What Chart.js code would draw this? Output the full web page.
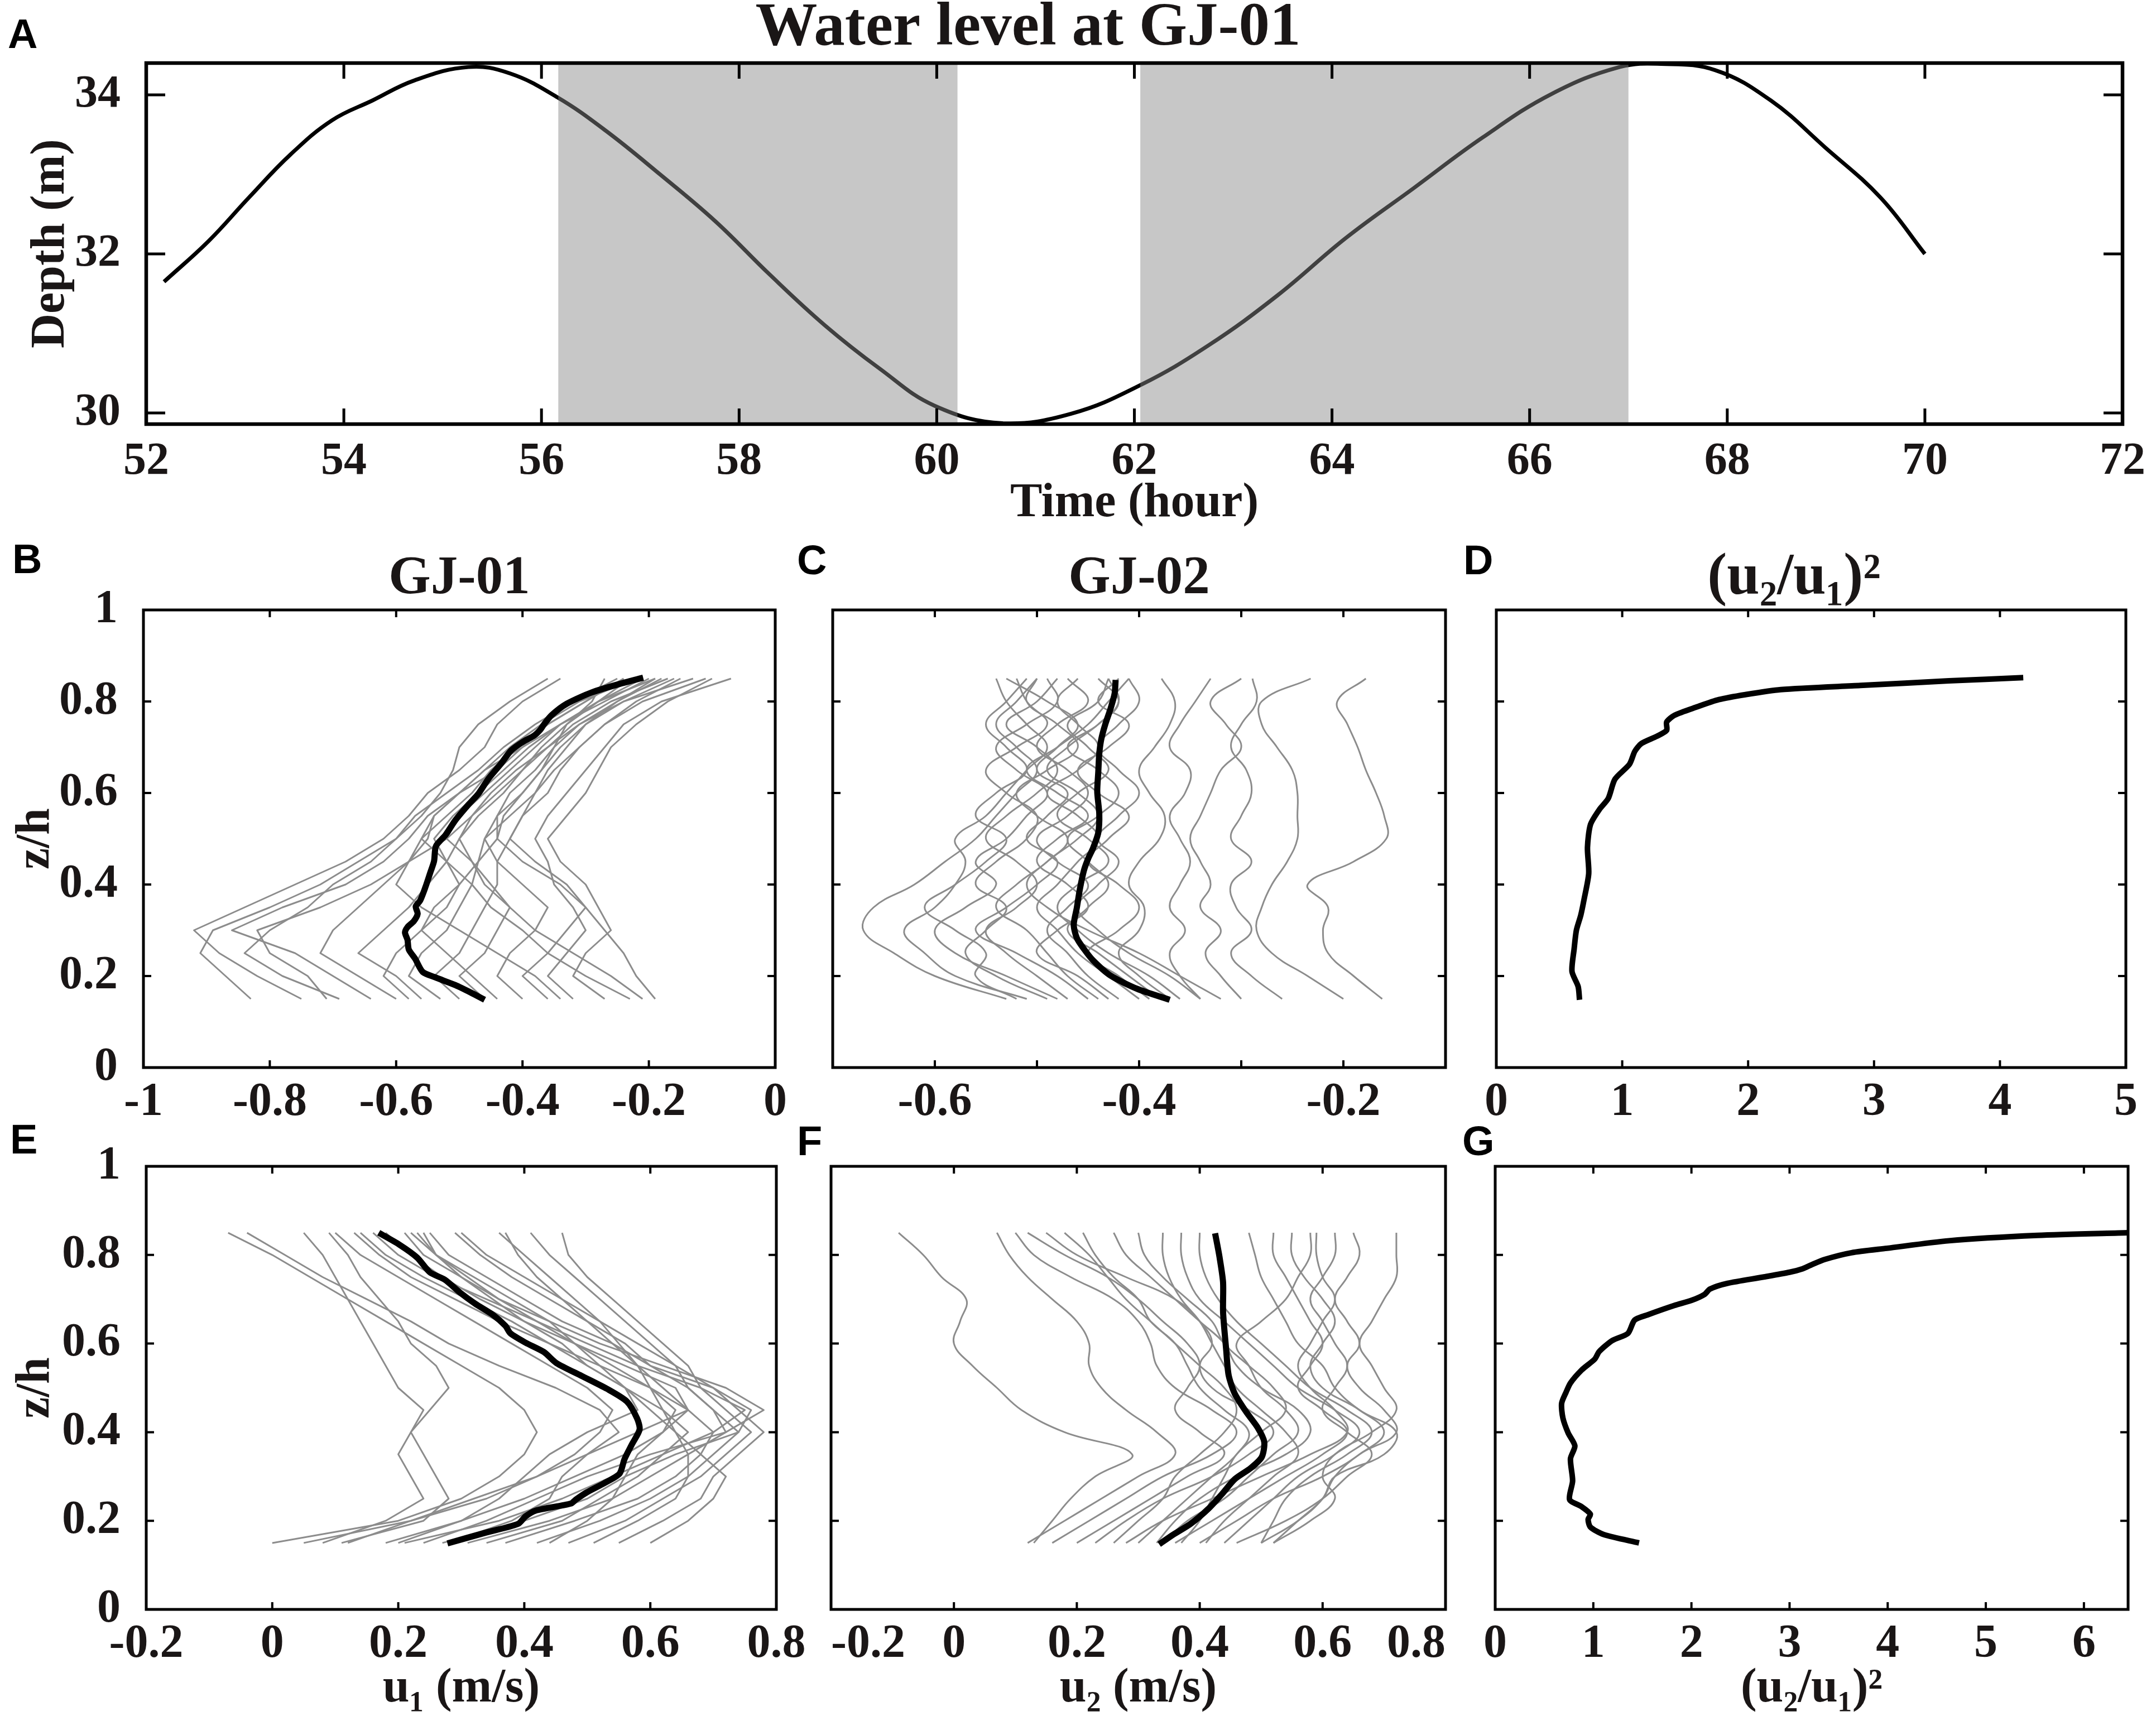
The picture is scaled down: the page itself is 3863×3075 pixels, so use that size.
<!DOCTYPE html>
<html>
<head>
<meta charset="utf-8">
<script src="https://cdn.jsdelivr.net/npm/chart.js@4.4.1/dist/chart.umd.min.js"></script>
<style>
  body { margin: 0; background: #fff; }
  #page { position: relative; width: 3863px; height: 3075px; overflow: hidden; background: #fff; }
  canvas { position: absolute; }
  .tag { position: absolute; font: bold 74px 'Liberation Sans', Arial, sans-serif; line-height: 1; color: #000; }
</style>
</head>
<body>
<div id="page">
  <canvas id="chartA"></canvas>
  <canvas id="chartB"></canvas>
  <canvas id="chartC"></canvas>
  <canvas id="chartD"></canvas>
  <canvas id="chartE"></canvas>
  <canvas id="chartF"></canvas>
  <canvas id="chartG"></canvas>
  <div class="tag" style="left:14px;top:24px">A</div>
  <div class="tag" style="left:22px;top:965px">B</div>
  <div class="tag" style="left:1428px;top:967px">C</div>
  <div class="tag" style="left:2622px;top:967px">D</div>
  <div class="tag" style="left:18px;top:2005px">E</div>
  <div class="tag" style="left:1428px;top:2008px">F</div>
  <div class="tag" style="left:2620px;top:2008px">G</div>
</div>
<script>
/* water level at GJ-01 */
const levelHours = [52.18, 52.63, 53.04, 53.46, 53.88, 54.29, 54.71, 55.26, 55.68, 56.16, 56.65, 57.2, 57.76, 58.31, 58.87, 59.42, 59.98, 60.67, 61.36, 62.06, 62.75, 63.45, 64.14, 64.83, 65.52, 66.22, 66.91, 67.33, 67.88, 68.44, 68.99, 69.55, 70.0];
const levelDepth = [31.65, 32.16, 32.71, 33.25, 33.68, 33.93, 34.18, 34.35, 34.27, 33.97, 33.55, 33.0, 32.41, 31.74, 31.10, 30.56, 30.09, 29.87, 29.99, 30.35, 30.85, 31.48, 32.2, 32.83, 33.46, 34.01, 34.35, 34.39, 34.31, 33.93, 33.34, 32.71, 32.0];
const shadeStart = [56.17, 62.06];
const shadeEnd = [60.21, 67.0];

/* profile levels (z/h) shared by all thin profiles */
const zLevels = [0.15, 0.2, 0.25, 0.3, 0.35, 0.4, 0.45, 0.5, 0.55, 0.6, 0.65, 0.7, 0.75, 0.8, 0.85];

/* B: GJ-01 ebb profiles */
const gj01EbbProfiles = [
  [-0.83,-0.87,-0.91,-0.89,-0.80,-0.72,-0.66,-0.60,-0.57,-0.52,-0.47,-0.43,-0.38,-0.32,-0.25],
  [-0.75,-0.82,-0.88,-0.92,-0.84,-0.76,-0.68,-0.62,-0.58,-0.55,-0.50,-0.46,-0.44,-0.40,-0.34],
  [-0.69,-0.78,-0.84,-0.80,-0.74,-0.70,-0.64,-0.60,-0.56,-0.53,-0.51,-0.50,-0.47,-0.42,-0.36],
  [-0.64,-0.70,-0.76,-0.86,-0.78,-0.68,-0.62,-0.58,-0.55,-0.50,-0.46,-0.42,-0.37,-0.31,-0.22],
  [-0.60,-0.66,-0.72,-0.70,-0.66,-0.62,-0.58,-0.55,-0.54,-0.50,-0.44,-0.40,-0.34,-0.27,-0.20],
  [-0.56,-0.60,-0.66,-0.62,-0.58,-0.55,-0.52,-0.50,-0.48,-0.45,-0.41,-0.36,-0.32,-0.26,-0.17],
  [-0.53,-0.58,-0.56,-0.52,-0.50,-0.48,-0.47,-0.46,-0.44,-0.42,-0.38,-0.35,-0.31,-0.24,-0.16],
  [-0.50,-0.54,-0.50,-0.48,-0.46,-0.44,-0.44,-0.42,-0.40,-0.38,-0.35,-0.31,-0.27,-0.21,-0.11],
  [-0.46,-0.50,-0.46,-0.44,-0.42,-0.45,-0.48,-0.50,-0.47,-0.43,-0.40,-0.37,-0.33,-0.29,-0.27],
  [-0.40,-0.44,-0.42,-0.38,-0.36,-0.40,-0.44,-0.46,-0.42,-0.38,-0.36,-0.33,-0.30,-0.25,-0.19],
  [-0.36,-0.40,-0.36,-0.33,-0.30,-0.33,-0.38,-0.42,-0.40,-0.36,-0.34,-0.31,-0.27,-0.22,-0.15],
  [-0.32,-0.36,-0.33,-0.30,-0.32,-0.35,-0.36,-0.38,-0.36,-0.33,-0.30,-0.27,-0.24,-0.18,-0.07],
  [-0.27,-0.32,-0.30,-0.26,-0.28,-0.30,-0.34,-0.36,-0.33,-0.30,-0.28,-0.26,-0.22,-0.17,-0.10],
  [-0.23,-0.30,-0.36,-0.40,-0.45,-0.48,-0.52,-0.56,-0.54,-0.50,-0.46,-0.40,-0.36,-0.30,-0.24],
  [-0.21,-0.26,-0.32,-0.38,-0.42,-0.46,-0.48,-0.52,-0.50,-0.46,-0.42,-0.38,-0.34,-0.28,-0.21],
  [-0.19,-0.22,-0.24,-0.27,-0.30,-0.34,-0.40,-0.44,-0.44,-0.40,-0.37,-0.34,-0.30,-0.24,-0.13],
  [-0.58,-0.62,-0.60,-0.56,-0.52,-0.50,-0.52,-0.54,-0.51,-0.47,-0.43,-0.39,-0.34,-0.28,-0.19],
  [-0.71,-0.74,-0.80,-0.82,-0.72,-0.64,-0.58,-0.56,-0.52,-0.48,-0.45,-0.41,-0.36,-0.30,-0.24],
  [-0.44,-0.48,-0.52,-0.56,-0.54,-0.50,-0.47,-0.44,-0.43,-0.40,-0.37,-0.35,-0.33,-0.28,-0.23],
  [-0.34,-0.38,-0.44,-0.50,-0.56,-0.60,-0.58,-0.52,-0.48,-0.44,-0.40,-0.36,-0.31,-0.25,-0.18]
];
const gj01EbbMeanU = [-0.46,-0.482,-0.506,-0.538,-0.558,-0.57,-0.58,-0.582,-0.586,-0.582,-0.572,-0.566,-0.569,-0.562,-0.554,-0.546,-0.54,-0.537,-0.522,-0.506,-0.486,-0.47,-0.454,-0.434,-0.418,-0.398,-0.382,-0.372,-0.366,-0.354,-0.33,-0.29,-0.242,-0.209];
const gj01EbbMeanZ = [0.148,0.164,0.180,0.197,0.209,0.238,0.258,0.279,0.295,0.307,0.32,0.336,0.352,0.365,0.393,0.426,0.451,0.484,0.508,0.541,0.574,0.598,0.631,0.664,0.693,0.713,0.725,0.738,0.75,0.77,0.795,0.82,0.84,0.852];

/* C: GJ-02 ebb profiles */
const gj02EbbProfiles = [
  [-0.53,-0.60,-0.64,-0.67,-0.66,-0.62,-0.59,-0.56,-0.54,-0.52,-0.50,-0.52,-0.54,-0.52,-0.50],
  [-0.51,-0.58,-0.61,-0.63,-0.60,-0.58,-0.57,-0.58,-0.55,-0.53,-0.51,-0.49,-0.51,-0.53,-0.54],
  [-0.49,-0.54,-0.57,-0.55,-0.53,-0.56,-0.54,-0.51,-0.50,-0.53,-0.55,-0.52,-0.49,-0.51,-0.52],
  [-0.47,-0.50,-0.53,-0.55,-0.52,-0.50,-0.52,-0.55,-0.53,-0.50,-0.48,-0.50,-0.53,-0.50,-0.48],
  [-0.44,-0.47,-0.49,-0.51,-0.54,-0.52,-0.49,-0.47,-0.50,-0.52,-0.49,-0.46,-0.48,-0.51,-0.50],
  [-0.42,-0.45,-0.47,-0.49,-0.47,-0.45,-0.48,-0.50,-0.47,-0.45,-0.47,-0.50,-0.48,-0.45,-0.47],
  [-0.40,-0.43,-0.46,-0.48,-0.50,-0.48,-0.46,-0.44,-0.46,-0.49,-0.46,-0.44,-0.46,-0.48,-0.46],
  [-0.38,-0.41,-0.44,-0.47,-0.45,-0.43,-0.45,-0.47,-0.44,-0.42,-0.44,-0.47,-0.44,-0.42,-0.44],
  [-0.36,-0.39,-0.43,-0.46,-0.48,-0.46,-0.43,-0.45,-0.48,-0.46,-0.43,-0.45,-0.47,-0.44,-0.43],
  [-0.34,-0.37,-0.41,-0.44,-0.46,-0.44,-0.42,-0.44,-0.42,-0.40,-0.42,-0.44,-0.42,-0.40,-0.41],
  [-0.32,-0.36,-0.40,-0.45,-0.49,-0.51,-0.49,-0.46,-0.44,-0.46,-0.49,-0.47,-0.44,-0.42,-0.43],
  [-0.52,-0.56,-0.55,-0.58,-0.61,-0.58,-0.55,-0.53,-0.56,-0.54,-0.51,-0.53,-0.55,-0.53,-0.51],
  [-0.45,-0.48,-0.52,-0.56,-0.53,-0.50,-0.48,-0.51,-0.49,-0.47,-0.50,-0.48,-0.46,-0.49,-0.53],
  [-0.43,-0.46,-0.50,-0.48,-0.45,-0.47,-0.50,-0.48,-0.45,-0.48,-0.51,-0.48,-0.45,-0.43,-0.41],
  [-0.39,-0.42,-0.45,-0.42,-0.40,-0.42,-0.45,-0.43,-0.41,-0.44,-0.46,-0.43,-0.41,-0.44,-0.42],
  [-0.48,-0.53,-0.58,-0.60,-0.57,-0.54,-0.56,-0.53,-0.51,-0.49,-0.52,-0.54,-0.51,-0.48,-0.49],
  [-0.37,-0.40,-0.42,-0.40,-0.395,-0.41,-0.40,-0.38,-0.375,-0.39,-0.40,-0.385,-0.37,-0.365,-0.378],
  [-0.34,-0.36,-0.37,-0.355,-0.37,-0.36,-0.35,-0.36,-0.37,-0.355,-0.35,-0.37,-0.36,-0.345,-0.33],
  [-0.30,-0.32,-0.335,-0.32,-0.34,-0.33,-0.34,-0.35,-0.34,-0.33,-0.32,-0.30,-0.315,-0.33,-0.30],
  [-0.26,-0.29,-0.31,-0.29,-0.305,-0.31,-0.29,-0.31,-0.30,-0.29,-0.295,-0.31,-0.30,-0.285,-0.289],
  [-0.20,-0.235,-0.27,-0.285,-0.28,-0.27,-0.255,-0.245,-0.245,-0.245,-0.25,-0.265,-0.28,-0.28,-0.232],
  [-0.162,-0.19,-0.215,-0.22,-0.215,-0.235,-0.19,-0.158,-0.16,-0.168,-0.178,-0.186,-0.196,-0.206,-0.178]
];
const gj02EbbMeanU = [-0.370,-0.402,-0.428,-0.445,-0.454,-0.461,-0.464,-0.461,-0.458,-0.454,-0.450,-0.445,-0.440,-0.439,-0.441,-0.440,-0.439,-0.437,-0.433,-0.428,-0.424,-0.423];
const gj02EbbMeanZ = [0.148,0.172,0.201,0.234,0.259,0.283,0.312,0.349,0.390,0.431,0.456,0.480,0.513,0.554,0.603,0.645,0.686,0.718,0.751,0.784,0.817,0.847];

/* D: ebb (u2/u1)^2 */
const ebbRatioX = [0.661,0.650,0.601,0.618,0.636,0.671,0.696,0.734,0.724,0.748,0.819,0.889,0.942,1.058,1.100,1.152,1.275,1.353,1.353,1.416,1.592,1.767,1.978,2.259,2.892,3.594,4.185];
const ebbRatioZ = [0.148,0.177,0.210,0.259,0.300,0.333,0.366,0.424,0.481,0.531,0.564,0.588,0.630,0.663,0.691,0.708,0.724,0.737,0.755,0.770,0.788,0.804,0.815,0.826,0.835,0.845,0.852];

/* E: GJ-01 flood profiles */
const gj01FloodProfiles = [
  [0.00,0.20,0.30,0.36,0.40,0.42,0.40,0.36,0.30,0.24,0.18,0.12,0.06,0.00,-0.07],
  [0.05,0.22,0.34,0.42,0.50,0.55,0.52,0.45,0.36,0.28,0.22,0.15,0.08,0.02,-0.04],
  [0.08,0.18,0.24,0.22,0.20,0.22,0.24,0.20,0.18,0.16,0.14,0.12,0.10,0.08,0.05],
  [0.11,0.24,0.28,0.26,0.24,0.22,0.25,0.28,0.26,0.22,0.20,0.17,0.14,0.12,0.09],
  [0.18,0.30,0.40,0.48,0.56,0.62,0.66,0.60,0.52,0.44,0.36,0.29,0.22,0.17,0.13],
  [0.21,0.36,0.46,0.54,0.62,0.70,0.75,0.68,0.58,0.50,0.42,0.34,0.26,0.20,0.16],
  [0.24,0.34,0.42,0.50,0.60,0.72,0.78,0.72,0.62,0.52,0.44,0.36,0.30,0.24,0.21],
  [0.27,0.40,0.50,0.56,0.64,0.74,0.76,0.70,0.60,0.54,0.46,0.40,0.34,0.28,0.25],
  [0.31,0.44,0.54,0.60,0.66,0.72,0.70,0.66,0.60,0.56,0.50,0.44,0.38,0.33,0.29],
  [0.37,0.48,0.58,0.64,0.68,0.70,0.66,0.62,0.58,0.54,0.50,0.46,0.42,0.39,0.37],
  [0.42,0.52,0.60,0.66,0.70,0.74,0.70,0.66,0.64,0.60,0.56,0.52,0.48,0.44,0.41],
  [0.47,0.56,0.62,0.68,0.72,0.76,0.72,0.68,0.66,0.62,0.58,0.54,0.50,0.47,0.46],
  [0.51,0.58,0.64,0.66,0.66,0.64,0.62,0.60,0.58,0.55,0.52,0.48,0.44,0.40,0.36],
  [0.55,0.62,0.68,0.70,0.74,0.78,0.74,0.70,0.64,0.58,0.52,0.46,0.40,0.34,0.30],
  [0.60,0.66,0.70,0.72,0.68,0.64,0.60,0.56,0.52,0.48,0.44,0.38,0.32,0.26,0.22],
  [0.12,0.22,0.32,0.42,0.48,0.52,0.54,0.50,0.44,0.38,0.32,0.26,0.20,0.14,0.10],
  [0.28,0.38,0.44,0.46,0.50,0.58,0.66,0.64,0.56,0.48,0.40,0.33,0.27,0.22,0.18],
  [0.34,0.46,0.52,0.58,0.62,0.66,0.62,0.56,0.50,0.46,0.40,0.35,0.30,0.26,0.24],
  [0.44,0.50,0.54,0.56,0.58,0.62,0.64,0.60,0.54,0.48,0.42,0.36,0.31,0.26,0.23],
  [0.20,0.30,0.36,0.40,0.44,0.50,0.58,0.56,0.50,0.44,0.38,0.31,0.24,0.18,0.14]
];
const gj01FloodMeanU = [0.278,0.338,0.390,0.402,0.418,0.474,0.482,0.499,0.527,0.551,0.559,0.571,0.583,0.579,0.563,0.531,0.491,0.451,0.431,0.402,0.378,0.370,0.350,0.322,0.298,0.274,0.250,0.230,0.202,0.169];
const gj01FloodMeanZ = [0.149,0.173,0.193,0.210,0.223,0.239,0.248,0.264,0.285,0.306,0.339,0.373,0.406,0.431,0.469,0.498,0.527,0.556,0.581,0.602,0.623,0.640,0.665,0.690,0.715,0.744,0.761,0.794,0.823,0.850];

/* F: GJ-02 flood profiles */
const gj02FloodProfiles = [
  [0.13,0.16,0.19,0.23,0.29,0.18,0.11,0.07,0.03,0.00,0.01,0.02,-0.02,-0.05,-0.09],
  [0.12,0.18,0.24,0.30,0.36,0.33,0.28,0.24,0.22,0.22,0.20,0.16,0.12,0.09,0.07],
  [0.16,0.22,0.28,0.34,0.42,0.46,0.42,0.36,0.33,0.32,0.30,0.26,0.19,0.13,0.10],
  [0.20,0.26,0.32,0.38,0.44,0.40,0.36,0.38,0.40,0.38,0.34,0.30,0.25,0.18,0.12],
  [0.23,0.28,0.34,0.42,0.48,0.52,0.48,0.42,0.40,0.42,0.40,0.36,0.28,0.20,0.15],
  [0.26,0.30,0.34,0.36,0.40,0.44,0.46,0.44,0.40,0.36,0.32,0.28,0.25,0.22,0.18],
  [0.30,0.34,0.38,0.42,0.46,0.48,0.44,0.40,0.38,0.36,0.32,0.30,0.26,0.23,0.21],
  [0.33,0.36,0.40,0.46,0.54,0.58,0.56,0.50,0.46,0.44,0.40,0.36,0.32,0.28,0.26],
  [0.37,0.40,0.42,0.44,0.46,0.50,0.54,0.52,0.48,0.44,0.42,0.38,0.34,0.31,0.30],
  [0.41,0.44,0.48,0.52,0.56,0.54,0.50,0.46,0.44,0.42,0.40,0.37,0.35,0.34,0.34],
  [0.44,0.48,0.52,0.56,0.62,0.66,0.62,0.56,0.52,0.48,0.44,0.40,0.38,0.37,0.37],
  [0.50,0.52,0.54,0.58,0.64,0.68,0.64,0.58,0.54,0.50,0.46,0.43,0.41,0.40,0.40],
  [0.52,0.56,0.60,0.62,0.70,0.72,0.66,0.62,0.60,0.56,0.54,0.52,0.50,0.49,0.48],
  [0.36,0.42,0.48,0.54,0.60,0.64,0.60,0.56,0.58,0.60,0.58,0.56,0.54,0.52,0.52],
  [0.40,0.46,0.52,0.60,0.66,0.70,0.66,0.60,0.58,0.60,0.62,0.60,0.57,0.55,0.55],
  [0.28,0.34,0.42,0.50,0.58,0.64,0.62,0.58,0.56,0.58,0.60,0.62,0.60,0.59,0.59],
  [0.46,0.54,0.60,0.64,0.68,0.64,0.60,0.62,0.64,0.62,0.60,0.58,0.60,0.62,0.62],
  [0.50,0.56,0.60,0.62,0.66,0.72,0.70,0.66,0.64,0.66,0.64,0.62,0.64,0.66,0.65],
  [0.52,0.58,0.62,0.60,0.62,0.68,0.72,0.70,0.68,0.66,0.68,0.70,0.72,0.72,0.72],
  [0.34,0.38,0.44,0.48,0.52,0.56,0.54,0.50,0.48,0.46,0.50,0.54,0.56,0.58,0.58]
];
const gj02FloodMeanU = [0.334,0.356,0.385,0.414,0.436,0.457,0.483,0.501,0.505,0.494,0.476,0.457,0.447,0.443,0.438,0.438,0.432,0.425];
const gj02FloodMeanZ = [0.147,0.168,0.193,0.227,0.260,0.294,0.319,0.344,0.378,0.411,0.445,0.487,0.529,0.587,0.671,0.738,0.797,0.849];

/* G: flood (u2/u1)^2 */
const floodRatioX = [1.466,1.105,0.970,0.947,0.970,0.880,0.758,0.789,0.767,0.812,0.744,0.690,0.677,0.722,0.767,0.880,1.015,1.060,1.195,1.353,1.421,1.556,1.827,2.007,2.134,2.188,2.368,2.729,3.0,3.135,3.225,3.360,3.631,3.992,4.623,5.526,6.45];
const floodRatioZ = [0.150,0.169,0.186,0.203,0.215,0.232,0.248,0.290,0.340,0.369,0.398,0.432,0.465,0.490,0.511,0.540,0.565,0.582,0.607,0.623,0.653,0.665,0.686,0.698,0.711,0.723,0.736,0.750,0.761,0.769,0.778,0.790,0.805,0.815,0.832,0.844,0.850];

const ink = '#1a1616';
const serif = (size, lh = 1) => ({ family: "'Liberation Serif', 'Times New Roman', serif", weight: 'bold', size, lineHeight: lh });
const fmt = v => String(Math.round(v * 10) / 10);
const blank = () => '';

// inward ticks on all four sides + box, MATLAB style
const boxTicks = {
  id: 'boxTicks',
  afterDraw(chart, args, o) {
    const { ctx, chartArea: a, scales: { x, y } } = chart;
    ctx.save();
    ctx.strokeStyle = '#000';
    ctx.lineWidth = o.tickWidth;
    ctx.beginPath();
    x.ticks.forEach(t => {
      const px = x.getPixelForValue(t.value);
      if (px < a.left + 2 || px > a.right - 2) return;
      ctx.moveTo(px, a.bottom); ctx.lineTo(px, a.bottom - o.xLen);
      ctx.moveTo(px, a.top); ctx.lineTo(px, a.top + o.xLen);
    });
    y.ticks.forEach(t => {
      const py = y.getPixelForValue(t.value);
      if (py < a.top + 2 || py > a.bottom - 2) return;
      ctx.moveTo(a.left, py); ctx.lineTo(a.left + o.yLen, py);
      ctx.moveTo(a.right, py); ctx.lineTo(a.right - o.yLen, py);
    });
    ctx.stroke();
    ctx.lineWidth = o.boxWidth;
    ctx.strokeRect(a.left, a.top, a.right - a.left, a.bottom - a.top);
    ctx.restore();
  }
};

// grey tidal phases drawn over the curve
const tideShade = {
  id: 'tideShade',
  afterDatasetsDraw(chart) {
    const { ctx, chartArea: a, scales: { x } } = chart;
    ctx.save();
    ctx.fillStyle = 'rgba(137,137,137,0.47)';
    shadeStart.forEach((s, i) => {
      const x1 = x.getPixelForValue(s), x2 = x.getPixelForValue(shadeEnd[i]);
      ctx.fillRect(x1, a.top, x2 - x1, a.bottom - a.top);
    });
    ctx.restore();
  }
};

function place(id, left, top, width, height) {
  const c = document.getElementById(id);
  c.width = width; c.height = height;
  c.style.left = left + 'px'; c.style.top = top + 'px';
  c.style.width = width + 'px'; c.style.height = height + 'px';
  return c;
}

function axis(o) {
  return {
    type: 'linear', min: o.min, max: o.max,
    grid: { display: false }, border: { display: false },
    ticks: {
      stepSize: o.step, includeBounds: false, autoSkip: false, maxRotation: 0, minRotation: 0,
      padding: o.pad, color: ink, font: serif(o.size || 84), callback: o.label || fmt, align: o.align || 'center'
    },
    title: o.title
      ? { display: true, text: o.title, color: ink, font: serif(86), padding: o.titlePad }
      : { display: false },
    afterFit: s => { if (s.isHorizontal()) s.height = o.space; else s.width = o.space; }
  };
}

function line(xs, ys, color, width, tension, order) {
  return {
    data: xs.map((v, i) => ({ x: v, y: ys[i] })),
    showLine: true, pointRadius: 0, borderColor: color, borderWidth: width,
    tension, order, borderJoinStyle: 'round', fill: false
  };
}

function profileSets(profiles, meanU, meanZ, tension) {
  const sets = [line(meanU, meanZ, '#000', 11, 0.25, 0)];
  profiles.forEach(p => sets.push(line(p, zLevels, '#8c8c8c', 3, tension, 1)));
  return sets;
}

function makeChart(canvas, cfg) {
  return new Chart(canvas, {
    type: 'scatter',
    data: { datasets: cfg.datasets },
    options: {
      responsive: false, animation: false, devicePixelRatio: 1,
      layout: { padding: { left: 0, top: cfg.padTop, right: cfg.padRight, bottom: 0 } },
      plugins: {
        legend: { display: false }, tooltip: { enabled: false },
        title: cfg.title || { display: false },
        boxTicks: cfg.ticks || { xLen: 13, yLen: 14, tickWidth: 4, boxWidth: 5 }
      },
      scales: { x: axis(cfg.x), y: axis(cfg.y) }
    },
    plugins: cfg.plugins || [boxTicks]
  });
}

function panelTitle(text, padTop, padBottom, size, fullSize = false) {
  return { display: true, text, color: ink, font: serif(size), padding: { top: padTop, bottom: padBottom }, fullSize };
}

/* A */
makeChart(place('chartA', -130, 0, 3993, 950), {
  datasets: [line(levelHours, levelDepth, '#000', 7, 0.4, 0)],
  padTop: 0, padRight: 49,
  title: { display: true, text: 'Water level at GJ-01', color: ink, font: serif(111, 0.8), padding: { top: 7, bottom: 17.2 }, fullSize: true },
  x: { min: 52, max: 72, step: 2, pad: 19, size: 82, space: 190, title: 'Time (hour)', titlePad: { bottom: 4 } },
  y: { min: 29.86, max: 34.40, step: 2, pad: 38, size: 82, space: 392, title: 'Depth (m)', titlePad: { top: 179 } },
  ticks: { xLen: 28, yLen: 34, tickWidth: 5, boxWidth: 6.5 },
  plugins: [tideShade, boxTicks]
});

/* B */
makeChart(place('chartB', 0, 950, 1460, 1060), {
  datasets: profileSets(gj01EbbProfiles, gj01EbbMeanU, gj01EbbMeanZ, 0),
  padTop: 0, padRight: 71,
  title: panelTitle('GJ-01', 39, 7, 97),
  x: { min: -1, max: 0, step: 0.2, pad: 13, space: 97 },
  y: { min: 0, max: 1, step: 0.2, pad: 38, space: 257, title: 'z/h', titlePad: { top: 22 } }
});

/* C */
makeChart(place('chartC', 1420, 950, 1240, 1060), {
  datasets: profileSets(gj02EbbProfiles, gj02EbbMeanU, gj02EbbMeanZ, 0.4),
  padTop: 0, padRight: 70,
  title: panelTitle('GJ-02', 39, 7, 97),
  x: { min: -0.7, max: -0.1, step: 0.1, pad: 13, space: 97, label: v => (Math.round(v * 10) % 2 === 0 ? fmt(v) : '') },
  y: { min: 0, max: 1, step: 0.2, pad: 38, space: 72, label: blank }
});

/* D: canvas runs past the page edge so the full-width title centres where the original sits */
makeChart(place('chartD', 2620, 950, 1364, 1060), {
  datasets: [line(ebbRatioX, ebbRatioZ, '#000', 10, 0.25, 0)],
  padTop: 0, padRight: 175,
  title: panelTitle('(u₂/u₁)²', 34.5, 3.5, 105, true),
  x: { min: 0, max: 5, step: 1, pad: 13, space: 97 },
  y: { min: 0, max: 1, step: 0.2, pad: 38, space: 61, label: blank }
});

/* E */
makeChart(place('chartE', 0, 2010, 1460, 1065), {
  datasets: profileSets(gj01FloodProfiles, gj01FloodMeanU, gj01FloodMeanZ, 0),
  padTop: 61, padRight: 69,
  x: { min: -0.2, max: 0.8, step: 0.2, pad: 13, space: 191, title: 'u₁ (m/s)', titlePad: { bottom: 5 } },
  y: { min: 0, max: 1, step: 0.2, pad: 38, space: 262, title: 'z/h', titlePad: { top: 22 } }
});

/* F */
makeChart(place('chartF', 1420, 2010, 1240, 1065), {
  datasets: profileSets(gj02FloodProfiles, gj02FloodMeanU, gj02FloodMeanZ, 0.4),
  padTop: 61, padRight: 70,
  x: { min: -0.2, max: 0.8, step: 0.2, pad: 13, space: 191, title: 'u₂ (m/s)', titlePad: { bottom: 5 }, align: 'inner' },
  y: { min: 0, max: 1, step: 0.2, pad: 38, space: 69, label: blank }
});

/* G */
makeChart(place('chartG', 2620, 2010, 1243, 1065), {
  datasets: [line(floodRatioX, floodRatioZ, '#000', 10, 0.25, 0)],
  padTop: 61, padRight: 50,
  x: { min: 0, max: 6.45, step: 1, pad: 13, space: 191, title: '(u₂/u₁)²', titlePad: { bottom: 5 } },
  y: { min: 0, max: 1, step: 0.2, pad: 38, space: 59, label: blank }
});
</script>
</body>
</html>
